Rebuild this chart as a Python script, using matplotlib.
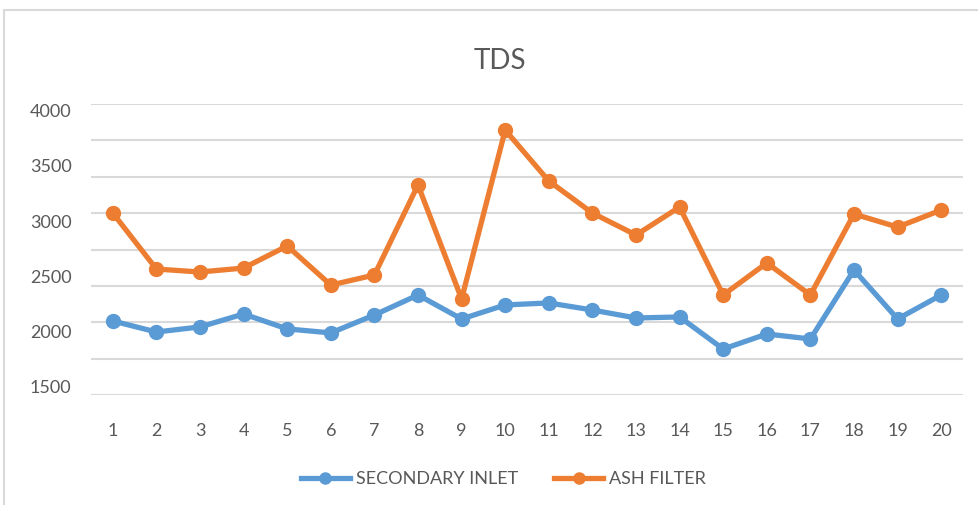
import matplotlib.pyplot as plt
from matplotlib.patches import Rectangle
import numpy as np

plt.rcParams["font.family"] = ["Lato", "DejaVu Sans"]

samples = list(range(1, 21))
secondary_inlet = [2097, 1997, 2043, 2160, 2025, 1989, 2151, 2332, 2115, 2242,
                   2260, 2196, 2124, 2133, 1843, 1979, 1934, 2558, 2115, 2332]
ash_filter = [3074, 2567, 2540, 2576, 2776, 2422, 2513, 3328, 2296, 3825,
              3364, 3074, 2875, 3128, 2332, 2622, 2332, 3065, 2947, 3101]
y_ticks = [1500, 2000, 2500, 3000, 3500, 4000]

text_color = "#595959"
grid_color = "#D9D9D9"

fig = plt.figure(figsize=(9.79, 5.05), dpi=100)
ax = fig.add_axes([91 / 979, 1 - 395.3 / 505, (963 - 91) / 979, (395.3 - 104) / 505])

x = np.arange(len(samples))
ax.plot(x, secondary_inlet, color="#5B9BD5", lw=3.8, marker="o", ms=10,
        solid_joinstyle="round", label="SECONDARY INLET")
ax.plot(x, ash_filter, color="#ED7D31", lw=3.8, marker="o", ms=10,
        solid_joinstyle="round", label="ASH FILTER")

ax.set_xlim(-0.5, len(samples) - 0.5)
ax.set_ylim(1424, 4061)
ax.set_xticks(x)
ax.set_xticklabels([str(s) for s in samples])
ax.set_yticks(y_ticks)
ax.set_yticklabels([str(v) for v in y_ticks])

# gridlines split the plot area evenly, independent of the labelled ticks
lo, hi = ax.get_ylim()
ax.set_yticks(np.linspace(lo, hi, 9), minor=True)
ax.grid(True, axis="y", which="minor", color=grid_color, lw=1.5)
ax.grid(False, which="major")
ax.set_axisbelow(True)

ax.tick_params(axis="both", which="both", length=0, labelsize=13, colors=text_color)
ax.tick_params(axis="x", pad=20)
ax.tick_params(axis="y", pad=14)
for spine in ax.spines.values():
    spine.set_visible(False)

fig.text(500 / 979, 1 - 61 / 505, "TDS", ha="center", va="center",
         fontsize=20, color=text_color)

fig.legend(loc="center", bbox_to_anchor=(503.5 / 979, 1 - 479 / 505), ncol=2,
           frameon=False, fontsize=13, labelcolor=text_color, handlelength=2.7,
           handletextpad=0.35, columnspacing=2.0, markerscale=0.8)

fig.add_artist(Rectangle((4 / 979, -0.1), 1.2, 1.1 - 10 / 505, transform=fig.transFigure,
                         fill=False, edgecolor=grid_color, lw=1.5))

fig.savefig("out.png", dpi=100)
